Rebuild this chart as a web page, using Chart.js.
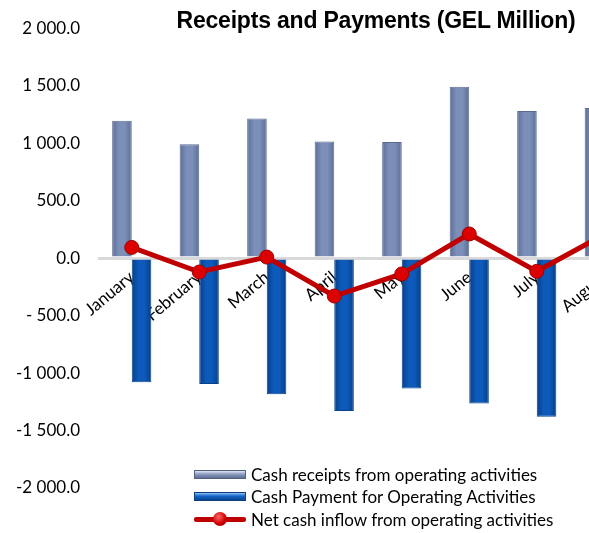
<!DOCTYPE html>
<html>
<head>
<meta charset="utf-8">
<script src="https://cdn.jsdelivr.net/npm/chart.js@4.4.1/dist/chart.umd.min.js"></script>
<style>
  html, body { margin: 0; padding: 0; background: #fff; overflow: hidden; }
  #wrap { position: relative; width: 752px; height: 533px; }
  #title { position: absolute; left: 0; top: 7px; width: 752px; text-align: center;
           font-family: "Liberation Sans", Arial, sans-serif; font-weight: bold; font-size: 23px;
           letter-spacing: -0.2px; color: #000; }
  #legend { position: absolute; left: 194px; top: 463px; font-family: Lato, sans-serif; font-size: 17px; color: #000; }
  .row { display: flex; align-items: center; height: 22.5px; white-space: nowrap; }
  .sw { width: 52px; height: 9px; margin-right: 5px; box-sizing: border-box; }
  .line { position: relative; width: 52px; height: 5px; margin-right: 5px; background: #c00000; border-radius: 2px; }
  .line i { position: absolute; left: 19px; top: -5px; width: 14px; height: 14px; border-radius: 50%;
            background: radial-gradient(circle at 40% 35%, #ff6a6a, #d00000 55%, #900000); }
</style>
</head>
<body>
<div id="wrap">
  <canvas id="chart" width="752" height="533"></canvas>
  <div id="title">Receipts and Payments (GEL Million)</div>
  <div id="legend"></div>
</div>
<script>
const months = ["January", "February", "March", "April", "May", "June", "July", "August"];
const receipts = [1195, 990, 1215, 1015, 1010, 1490, 1280, 1305];
const payments = [-1080, -1095, -1185, -1330, -1135, -1265, -1380, -1090];
const netInflow = [93, -121, 9, -330, -138, 210, -115, 205];

const seriesNames = [
  "Cash receipts from operating activities",
  "Cash Payment for Operating Activities",
  "Net cash inflow from operating activities"
];

const yTickValues = [2000, 1500, 1000, 500, 0, -500, -1000, -1500, -2000];
const yTickLabels = ["2 000.0", "1 500.0", "1 000.0", "500.0", "0.0", "- 500.0", "-1 000.0", "-1 500.0", "-2 000.0"];

const CAT_PCT = 0.58;

function yLabel(v) {
  const i = yTickValues.indexOf(v);
  return i >= 0 ? yTickLabels[i] : "";
}

// horizontal shading so the bars look rounded like the Excel original
function barFill(edge, mid, side) {
  return (c) => {
    const chart = c.chart;
    const xs = chart.scales.x;
    if (!chart.chartArea || !xs || c.dataIndex == null) return mid;
    const center = xs.getPixelForValue(c.dataIndex);
    const w = (xs.getPixelForValue(1) - xs.getPixelForValue(0)) * CAT_PCT / 2;
    const x0 = side < 0 ? center - w : center;
    if (!isFinite(x0) || !isFinite(w) || w <= 0) return mid;
    const g = chart.ctx.createLinearGradient(x0, 0, x0 + w, 0);
    g.addColorStop(0, edge);
    g.addColorStop(0.35, mid);
    g.addColorStop(0.65, mid);
    g.addColorStop(1, edge);
    return g;
  };
}

function buildLegend() {
  const el = document.getElementById("legend");
  const swatches = [
    '<div class="sw" style="background:linear-gradient(#dfe6f5,#8c9cc0 45%,#5d6d94);border:1px solid #55627f"></div>',
    '<div class="sw" style="background:linear-gradient(#8cc0f5,#1464c8 45%,#0a468f);border:1px solid #0a3f80"></div>',
    '<div class="line"><i></i></div>'
  ];
  seriesNames.forEach((name, i) => {
    const row = document.createElement("div");
    row.className = "row";
    row.innerHTML = swatches[i] + "<span>" + name + "</span>";
    el.appendChild(row);
  });
}

const ctx = document.getElementById("chart");
new Chart(ctx, {
  type: "bar",
  data: {
    labels: months,
    datasets: [
      {
        type: "line",
        label: seriesNames[2],
        data: netInflow,
        order: 0,
        borderColor: "#c00000",
        borderWidth: 5,
        tension: 0,
        pointRadius: 7,
        pointBackgroundColor: "#dd0000",
        pointBorderColor: "#a00000",
        pointBorderWidth: 1
      },
      {
        label: seriesNames[0],
        data: receipts,
        order: 1,
        backgroundColor: barFill("#5d6e96", "#7b8fb8", -1),
        borderColor: "#5b6a8e",
        borderWidth: 1,
        categoryPercentage: CAT_PCT,
        barPercentage: 1
      },
      {
        label: seriesNames[1],
        data: payments,
        order: 2,
        backgroundColor: barFill("#063f86", "#0d5abb", 1),
        borderColor: "#08428a",
        borderWidth: 1,
        categoryPercentage: CAT_PCT,
        barPercentage: 1
      }
    ]
  },
  options: {
    responsive: false,
    animation: false,
    layout: { padding: { left: 0, right: 114, top: 24, bottom: 45 } },
    plugins: {
      legend: { display: false },
      tooltip: { enabled: false },
      title: { display: false }
    },
    scales: {
      x: {
        position: { y: 0 },
        afterFit: (s) => { s.height = 0; },
        grid: { display: false, drawTicks: false },
        border: { display: false },
        ticks: {
          color: "#000",
          font: { family: "Lato", size: 17 },
          minRotation: 40,
          maxRotation: 40,
          padding: 9
        }
      },
      y: {
        min: -2000,
        max: 2000,
        afterFit: (s) => { s.width = 98; },
        border: { display: false },
        grid: {
          drawTicks: false,
          color: (c) => (c.tick && c.tick.value === 0 ? "#d9d9d9" : "rgba(0,0,0,0)"),
          lineWidth: 3
        },
        ticks: {
          stepSize: 500,
          padding: 18,
          color: "#000",
          font: { family: "Lato", size: 17 },
          callback: (v) => yLabel(v)
        }
      }
    }
  }
});

buildLegend();
</script>
</body>
</html>
